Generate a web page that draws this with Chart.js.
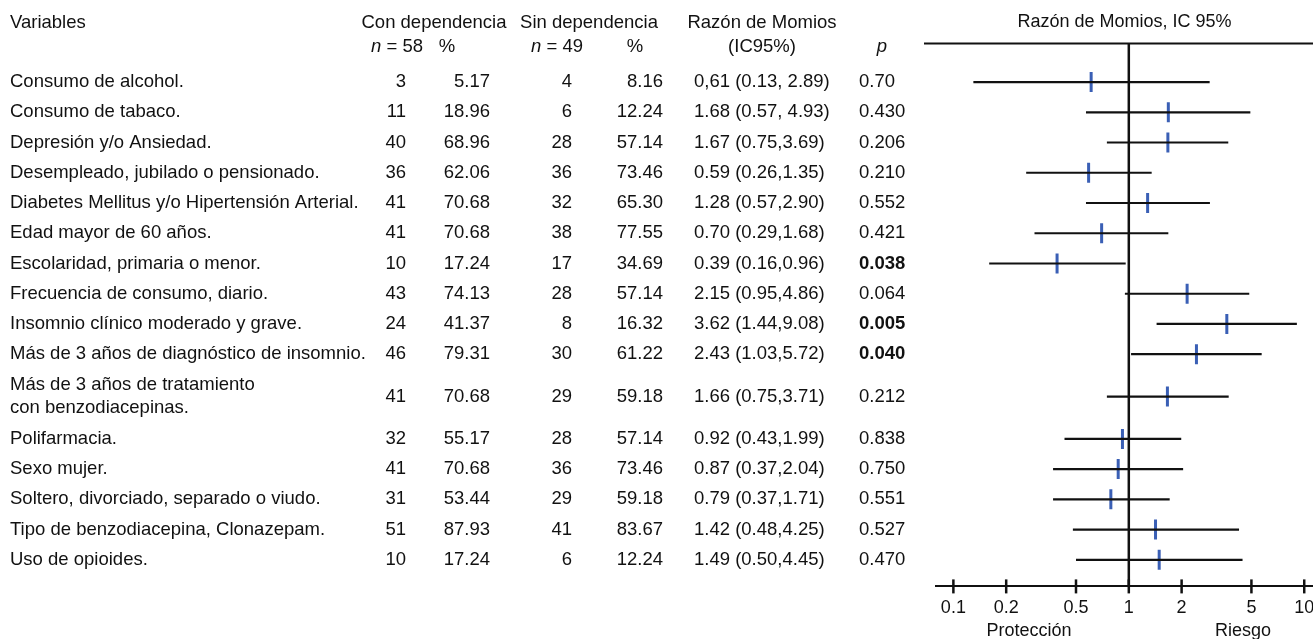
<!DOCTYPE html>
<html lang="es">
<head>
<meta charset="utf-8">
<title>Razón de Momios, IC 95%</title>
<script src="https://cdn.jsdelivr.net/npm/chart.js@4.4.1/dist/chart.umd.min.js"></script>
<style>
  html, body { margin: 0; padding: 0; background: #ffffff; overflow: hidden; }
  #wrap { position: relative; width: 1313px; height: 639px; overflow: hidden; }
  #forest { display: block; }
</style>
</head>
<body>
<div id="wrap"><canvas id="forest"></canvas></div>
<script>
// ---- Data ----------------------------------------------------------------
const variables = [
  ['Consumo de alcohol.'],
  ['Consumo de tabaco.'],
  ['Depresión y/o Ansiedad.'],
  ['Desempleado, jubilado o pensionado.'],
  ['Diabetes Mellitus y/o Hipertensión Arterial.'],
  ['Edad mayor de 60 años.'],
  ['Escolaridad, primaria o menor.'],
  ['Frecuencia de consumo, diario.'],
  ['Insomnio clínico moderado y grave.'],
  ['Más de 3 años de diagnóstico de insomnio.'],
  ['Más de 3 años de tratamiento', 'con benzodiacepinas.'],
  ['Polifarmacia.'],
  ['Sexo mujer.'],
  ['Soltero, divorciado, separado o viudo.'],
  ['Tipo de benzodiacepina, Clonazepam.'],
  ['Uso de opioides.']
];
const conN   = [3, 11, 40, 36, 41, 41, 10, 43, 24, 46, 41, 32, 41, 31, 51, 10];
const conPct = ['5.17', '18.96', '68.96', '62.06', '70.68', '70.68', '17.24', '74.13',
                '41.37', '79.31', '70.68', '55.17', '70.68', '53.44', '87.93', '17.24'];
const sinN   = [4, 6, 28, 36, 32, 38, 17, 28, 8, 30, 29, 28, 36, 29, 41, 6];
const sinPct = ['8.16', '12.24', '57.14', '73.46', '65.30', '77.55', '34.69', '57.14',
                '16.32', '61.22', '59.18', '57.14', '73.46', '59.18', '83.67', '12.24'];
const oddsRatio = [0.61, 1.68, 1.67, 0.59, 1.28, 0.70, 0.39, 2.15, 3.62, 2.43, 1.66, 0.92, 0.87, 0.79, 1.42, 1.49];
const ciLow     = [0.13, 0.57, 0.75, 0.26, 0.57, 0.29, 0.16, 0.95, 1.44, 1.03, 0.75, 0.43, 0.37, 0.37, 0.48, 0.50];
const ciHigh    = [2.89, 4.93, 3.69, 1.35, 2.90, 1.68, 0.96, 4.86, 9.08, 5.72, 3.71, 1.99, 2.04, 1.71, 4.25, 4.45];
const orText = ['0,61 (0.13, 2.89)', '1.68 (0.57, 4.93)', '1.67 (0.75,3.69)', '0.59 (0.26,1.35)',
                '1.28 (0.57,2.90)', '0.70 (0.29,1.68)', '0.39 (0.16,0.96)', '2.15 (0.95,4.86)',
                '3.62 (1.44,9.08)', '2.43 (1.03,5.72)', '1.66 (0.75,3.71)', '0.92 (0.43,1.99)',
                '0.87 (0.37,2.04)', '0.79 (0.37,1.71)', '1.42 (0.48,4.25)', '1.49 (0.50,4.45)'];
const pValues = ['0.70', '0.430', '0.206', '0.210', '0.552', '0.421', '0.038', '0.064',
                 '0.005', '0.040', '0.212', '0.838', '0.750', '0.551', '0.527', '0.470'];
const orTickValues = [0.1, 0.2, 0.5, 1, 2, 5, 10];

// ---- Row layout: one unit per row, wrapped labels take extra room --------
const EXTRA_PER_LINE = 0.8;
const rowPos = (() => {
  let acc = 0;
  return variables.map(lines => {
    const half = (lines.length - 1) * EXTRA_PER_LINE / 2;
    acc += half;
    const y = acc;
    acc += half + 1;
    return y;
  });
})();

// ---- Styling ---------------------------------------------------------------
const FONT = '"Liberation Sans", Arial, Helvetica, sans-serif';
const INK = '#111111';
const MARK_BLUE = '#3a5fb5';
const TABLE_SIZE = 18.5;
Chart.defaults.font.family = FONT;
Chart.defaults.font.size = 18;
Chart.defaults.color = INK;

// Column anchors of the table (x in px)
const COL = {
  label: 10,
  conN: 406, conPct: 490,
  sinN: 572, sinPct: 663,
  or: 694, p: 859
};

function drawParts(ctx, parts, x, y, align) {
  // parts: [{text, font}] drawn side by side
  const widths = parts.map(p => { ctx.font = p.font; return ctx.measureText(p.text).width; });
  const total = widths.reduce((a, b) => a + b, 0);
  let cx = align === 'center' ? x - total / 2 : x;
  ctx.textAlign = 'left';
  parts.forEach((p, i) => { ctx.font = p.font; ctx.fillText(p.text, cx, y); cx += widths[i]; });
}

const tablePlugin = {
  id: 'tableText',
  afterDraw(chart) {
    const ctx = chart.ctx;
    const ys = chart.scales.y;
    const regular = TABLE_SIZE + 'px ' + FONT;
    const italic = 'italic ' + TABLE_SIZE + 'px ' + FONT;
    const bold = 'bold ' + TABLE_SIZE + 'px ' + FONT;
    ctx.save();
    ctx.fillStyle = INK;
    ctx.textBaseline = 'middle';

    // header, first line
    const h1 = 23, h2 = 47;
    ctx.font = regular;
    ctx.textAlign = 'left';
    ctx.fillText('Variables', COL.label, h1);
    ctx.textAlign = 'center';
    ctx.fillText('Con dependencia', 434, h1);
    ctx.fillText('Sin dependencia', 589, h1);
    ctx.fillText('Razón de Momios', 762, h1);
    // header, second line
    drawParts(ctx, [{ text: 'n', font: italic }, { text: ' = 58', font: regular }], 397, h2, 'center');
    drawParts(ctx, [{ text: '%', font: regular }], 447, h2, 'center');
    drawParts(ctx, [{ text: 'n', font: italic }, { text: ' = 49', font: regular }], 557, h2, 'center');
    drawParts(ctx, [{ text: '%', font: regular }], 635, h2, 'center');
    drawParts(ctx, [{ text: '(IC95%)', font: regular }], 762, h2, 'center');
    drawParts(ctx, [{ text: 'p', font: italic }], 882, h2, 'center');

    // body rows
    variables.forEach((lines, i) => {
      const y = ys.getPixelForValue(rowPos[i]);
      ctx.font = regular;
      ctx.textAlign = 'left';
      const lh = 22.5;
      lines.forEach((t, k) => {
        ctx.fillText(t, COL.label, y + (k - (lines.length - 1) / 2) * lh);
      });
      ctx.textAlign = 'right';
      ctx.fillText(String(conN[i]), COL.conN, y);
      ctx.fillText(conPct[i], COL.conPct, y);
      ctx.fillText(String(sinN[i]), COL.sinN, y);
      ctx.fillText(sinPct[i], COL.sinPct, y);
      ctx.textAlign = 'left';
      ctx.fillText(orText[i], COL.or, y);
      ctx.font = parseFloat(pValues[i]) < 0.05 ? bold : regular;
      ctx.fillText(pValues[i], COL.p, y);
    });
    ctx.restore();
  }
};

const forestFrame = {
  id: 'forestFrame',
  beforeDatasetsDraw(chart) {
    const { ctx, chartArea: a } = chart;
    const xs = chart.scales.x;
    ctx.save();
    ctx.strokeStyle = INK;
    // top rule of the panel
    ctx.lineWidth = 2;
    ctx.beginPath();
    ctx.moveTo(a.left - 12, a.top);
    ctx.lineTo(a.right, a.top);
    ctx.stroke();
    // line of no effect (OR = 1)
    const x1 = xs.getPixelForValue(1);
    ctx.lineWidth = 2.5;
    ctx.beginPath();
    ctx.moveTo(x1, a.top);
    ctx.lineTo(x1, a.bottom);
    ctx.stroke();
    ctx.restore();
  },
  afterDraw(chart) {
    const { ctx, chartArea: a } = chart;
    const xs = chart.scales.x;
    ctx.save();
    ctx.strokeStyle = INK;
    ctx.lineWidth = 2.5;
    orTickValues.forEach(v => {
      const x = xs.getPixelForValue(v);
      ctx.beginPath();
      ctx.moveTo(x, a.bottom - 7);
      ctx.lineTo(x, a.bottom + 7);
      ctx.stroke();
    });
    ctx.fillStyle = INK;
    ctx.font = '18px ' + FONT;
    ctx.textAlign = 'center';
    ctx.textBaseline = 'middle';
    ctx.fillText('Protección', 1029, 631);
    ctx.fillText('Riesgo', 1243, 631);
    ctx.restore();
  }
};

// ---- Datasets ---------------------------------------------------------------
const ciDatasets = oddsRatio.map((_, i) => ({
  label: variables[i].join(' '),
  data: [{ x: ciLow[i], y: rowPos[i] }, { x: ciHigh[i], y: rowPos[i] }],
  showLine: true,
  borderColor: INK,
  borderWidth: 2.2,
  pointRadius: 0,
  pointHoverRadius: 0
}));

const orDataset = {
  label: 'Razón de Momios',
  data: oddsRatio.map((v, i) => ({ x: v, y: rowPos[i] })),
  showLine: false,
  pointStyle: 'line',
  rotation: 90,
  pointRadius: 10,
  pointHoverRadius: 10,
  borderColor: MARK_BLUE,
  backgroundColor: MARK_BLUE,
  borderWidth: 3
};

new Chart(document.getElementById('forest'), {
  type: 'scatter',
  data: { datasets: [...ciDatasets, orDataset] },
  options: {
    responsive: true,
    maintainAspectRatio: false,
    animation: false,
    events: [],
    layout: { autoPadding: false, padding: { left: 936, right: 0, top: 0, bottom: 20 } },
    plugins: {
      legend: { display: false },
      tooltip: { enabled: false },
      title: {
        display: true,
        fullSize: false,
        text: 'Razón de Momios, IC 95%',
        color: INK,
        font: { size: 18, weight: 'normal' },
        padding: { top: 11, bottom: 11 }
      }
    },
    scales: {
      x: {
        type: 'logarithmic',
        min: 0.0796,
        max: 11.22,
        // tick marks are drawn by forestFrame; tickLength only spaces the labels
        grid: { display: false, drawTicks: true, tickLength: 11 },
        border: { display: true, color: INK, width: 2 },
        afterBuildTicks: axis => { axis.ticks = orTickValues.map(v => ({ value: v })); },
        afterFit: axis => { axis.paddingRight = 0; axis.paddingLeft = 0; },
        ticks: {
          autoSkip: false,
          maxRotation: 0,
          padding: 0,
          color: INK,
          font: { size: 18 },
          callback: v => String(v)
        }
      },
      y: {
        type: 'linear',
        reverse: true,
        min: -1.271,
        max: rowPos[rowPos.length - 1] + 0.878,
        display: false
      }
    }
  },
  plugins: [tablePlugin, forestFrame]
});
</script>
</body>
</html>
